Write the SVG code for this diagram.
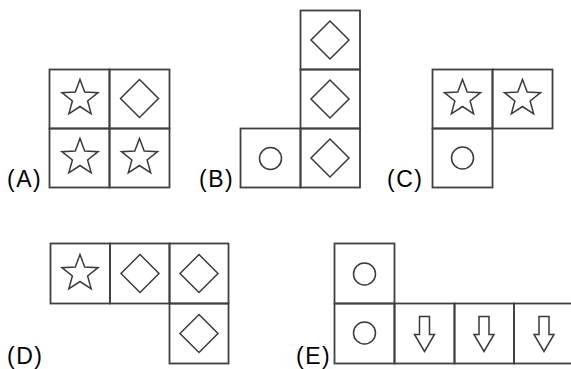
<svg xmlns="http://www.w3.org/2000/svg" xmlns:xlink="http://www.w3.org/1999/xlink" width="571" height="369" viewBox="0 0 571 369">
<style>
.cell{fill:none;stroke:#404040;stroke-width:1.8}
.shape{fill:none;stroke:#3a3a3a;stroke-width:1.5;stroke-linejoin:miter}
.lbl{font-family:"Liberation Sans",Arial,sans-serif;font-size:23px;fill:#000;letter-spacing:1.5px}
</style>
<defs>
<polygon id="star" class="shape" points="0,-19 4.7,-6.47 18.07,-5.87 7.61,2.47 11.17,15.37 0,8 -11.17,15.37 -7.61,2.47 -18.07,-5.87 -4.7,-6.47"/>
<polygon id="diamond" class="shape" points="0,-19 19,0 0,19 -19,0"/>
<circle id="circ" class="shape" r="11"/>
<path id="arrow" class="shape" d="M-5,-17 H5 V1 H10 L0,18 L-10,1 H-5 Z"/>
</defs>
<rect width="571" height="369" fill="#fff"/>
<g id="A">
<rect class="cell" x="49.5" y="69.5" width="60" height="59"/>
<rect class="cell" x="109.5" y="69.5" width="60" height="59"/>
<rect class="cell" x="49.5" y="128.5" width="60" height="59"/>
<rect class="cell" x="109.5" y="128.5" width="60" height="59"/>
<use xlink:href="#star" x="80" y="98.5"/>
<use xlink:href="#diamond" x="139.5" y="98.5"/>
<use xlink:href="#star" x="80" y="157.5"/>
<use xlink:href="#star" x="139.5" y="157.5"/>
<text class="lbl" x="7" y="187">(A)</text>
</g>
<g id="B">
<rect class="cell" x="300.5" y="10.5" width="59.5" height="59"/>
<rect class="cell" x="300.5" y="69.5" width="59.5" height="59"/>
<rect class="cell" x="300.5" y="128.5" width="59.5" height="59"/>
<rect class="cell" x="240.5" y="128.5" width="60" height="59"/>
<use xlink:href="#diamond" x="330" y="40"/>
<use xlink:href="#diamond" x="330" y="99"/>
<use xlink:href="#diamond" x="330" y="158"/>
<use xlink:href="#circ" x="270.5" y="158.5"/>
<text class="lbl" x="199" y="187">(B)</text>
</g>
<g id="C">
<rect class="cell" x="432.5" y="69.5" width="60" height="59"/>
<rect class="cell" x="492.5" y="69.5" width="60" height="59"/>
<rect class="cell" x="432.5" y="128.5" width="60" height="59"/>
<use xlink:href="#star" x="462.5" y="98.5"/>
<use xlink:href="#star" x="522.5" y="98.5"/>
<use xlink:href="#circ" x="462.5" y="158"/>
<text class="lbl" x="387" y="187">(C)</text>
</g>
<g id="D">
<rect class="cell" x="50.5" y="243.5" width="59.5" height="60"/>
<rect class="cell" x="110" y="243.5" width="59.5" height="60"/>
<rect class="cell" x="169.5" y="243.5" width="59" height="60"/>
<rect class="cell" x="169.5" y="303.5" width="59" height="60"/>
<use xlink:href="#star" x="80" y="273.5"/>
<use xlink:href="#diamond" x="140" y="273.5"/>
<use xlink:href="#diamond" x="199" y="273.5"/>
<use xlink:href="#diamond" x="199" y="333.5"/>
<text class="lbl" x="7" y="364">(D)</text>
</g>
<g id="E">
<rect class="cell" x="334.5" y="243.5" width="60" height="60"/>
<rect class="cell" x="334.5" y="303.5" width="60" height="60"/>
<rect class="cell" x="394.5" y="303.5" width="60" height="60"/>
<rect class="cell" x="454.5" y="303.5" width="59.5" height="60"/>
<rect class="cell" x="514" y="303.5" width="62" height="60"/>
<use xlink:href="#circ" x="364.5" y="274"/>
<use xlink:href="#circ" x="364.5" y="333"/>
<use xlink:href="#arrow" x="424.5" y="333.5"/>
<use xlink:href="#arrow" x="484" y="333.5"/>
<use xlink:href="#arrow" x="544" y="333.5"/>
<text class="lbl" x="296" y="364">(E)</text>
</g>
<g id="connectors"/>
</svg>
